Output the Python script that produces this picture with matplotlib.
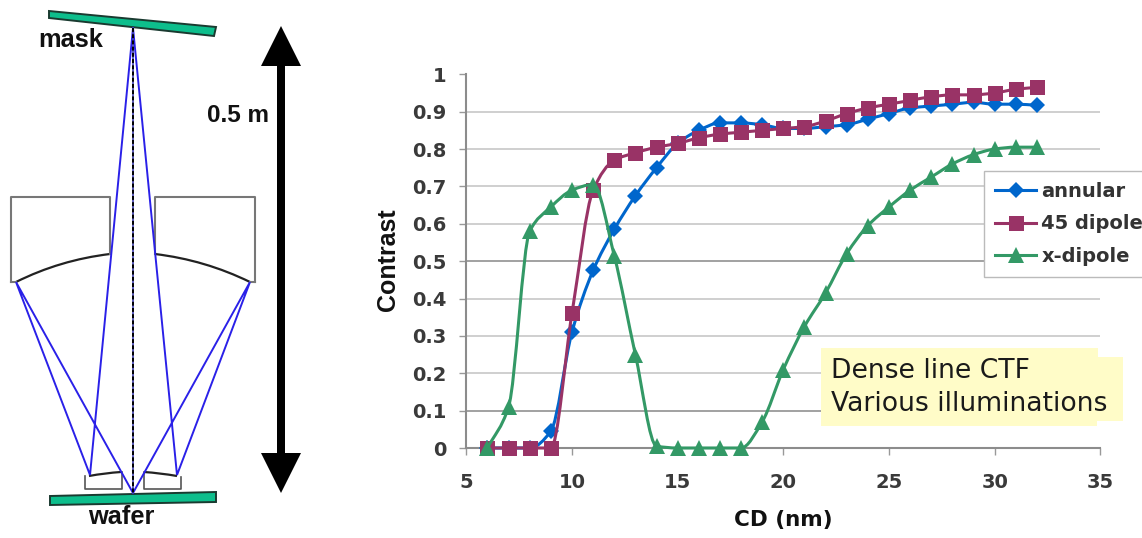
import matplotlib
matplotlib.use('Agg')
import matplotlib.pyplot as plt
from matplotlib.lines import Line2D
from matplotlib.patches import PathPatch, Polygon
from matplotlib.path import Path

W, H = 1142, 538

# chart data
cd = list(range(6, 33))
annular = [0, 0, 0, 0.045, 0.31, 0.475, 0.585, 0.675, 0.75, 0.815, 0.85, 0.87, 0.87, 0.865,
           0.855, 0.855, 0.86, 0.865, 0.88, 0.895, 0.91, 0.915, 0.92, 0.925, 0.92, 0.92, 0.917]
dipole_45 = [0, 0, 0, 0, 0.36, 0.69, 0.77, 0.79, 0.805, 0.815, 0.83, 0.84, 0.845, 0.85,
             0.855, 0.86, 0.875, 0.895, 0.91, 0.92, 0.93, 0.94, 0.945, 0.945, 0.95, 0.96, 0.965]
x_dipole = [0, 0.11, 0.58, 0.645, 0.69, 0.705, 0.515, 0.25, 0.005, 0, 0, 0, 0, 0.07,
            0.21, 0.325, 0.415, 0.52, 0.595, 0.645, 0.69, 0.725, 0.76, 0.785, 0.8, 0.805, 0.805]
x_ticks = [5, 10, 15, 20, 25, 30, 35]
y_ticks = [0, 0.1, 0.2, 0.3, 0.4, 0.5, 0.6, 0.7, 0.8, 0.9, 1]
y_tick_labels = ['0', '0.1', '0.2', '0.3', '0.4', '0.5', '0.6', '0.7', '0.8', '0.9', '1']

# optics sketch, in image pixels
mask_shape = [(49, 11), (216, 27), (214, 36), (49, 18)]
wafer_shape = [(50, 496), (216, 492), (216, 502), (50, 505)]
focus_top = (133, 28)
focus_bottom = (133, 493)
rays = [
    [focus_top, (90, 475), (16, 282), focus_bottom],
    [focus_top, (177, 475), (250, 282), focus_bottom],
]
arrow_shape = [(281, 26), (301, 66), (285, 66), (285, 453), (301, 453), (281, 493),
               (261, 453), (277, 453), (277, 66), (261, 66)]
note_shape = [(821, 348), (1098, 348), (1098, 357), (1123, 357), (1123, 421),
              (1097, 421), (1097, 426), (821, 426)]


def smooth_path(xs, ys):
    # bezier through the values, flat at local extrema so it does not overshoot
    n = len(xs)
    sec = [(ys[i + 1] - ys[i]) / (xs[i + 1] - xs[i]) for i in range(n - 1)]
    tan = [sec[0]]
    for i in range(1, n - 1):
        a, b = sec[i - 1], sec[i]
        tan.append(0 if a * b <= 0 else 2 * a * b / (a + b))
    tan.append(sec[-1])
    verts = [(xs[0], ys[0])]
    codes = [Path.MOVETO]
    for i in range(n - 1):
        h = (xs[i + 1] - xs[i]) / 3
        verts += [(xs[i] + h, ys[i] + h * tan[i]),
                  (xs[i + 1] - h, ys[i + 1] - h * tan[i + 1]),
                  (xs[i + 1], ys[i + 1])]
        codes += [Path.CURVE4] * 3
    return Path(verts, codes)


def curve(ax, start, ctrl, end, color='#222222', lw=1.6):
    p = Path([start, ctrl, end], [Path.MOVETO, Path.CURVE3, Path.CURVE3])
    ax.add_patch(PathPatch(p, fc='none', ec=color, lw=lw))


fig = plt.figure(figsize=(W / 100, H / 100), dpi=100, facecolor='white')

# background layer in pixel coordinates, for the sketch
dg = fig.add_axes([0, 0, 1, 1])
dg.set_xlim(0, W)
dg.set_ylim(H, 0)
dg.axis('off')

for shape in (mask_shape, wafer_shape):
    dg.add_patch(Polygon(shape, fc='#0DBE8C', ec='#1a3a30', lw=1.4))

box_color = '#777777'
dg.plot([11, 11, 110, 110], [282, 197, 197, 254], color=box_color, lw=1.5)
dg.plot([255, 255, 155, 155], [282, 197, 197, 254], color=box_color, lw=1.5)
dg.plot([11, 16], [282, 282], color=box_color, lw=1.5)
dg.plot([250, 255], [282, 282], color=box_color, lw=1.5)
dg.plot([85, 85, 122, 122], [476, 489, 489, 472], color='#555555', lw=1.2)
dg.plot([144, 144, 181, 181], [472, 489, 489, 477], color='#555555', lw=1.2)
curve(dg, (16, 282), (60, 260), (110, 254))
curve(dg, (155, 254), (205, 260), (250, 282))
curve(dg, (89, 476), (105, 473), (121, 472))
curve(dg, (144, 472), (160, 473), (177, 476))

for ray in rays:
    dg.plot([p[0] for p in ray], [p[1] for p in ray], color='#2a20e8', lw=1.4, solid_joinstyle='miter')
dg.plot([133, 133], [focus_top[1], focus_bottom[1]], color='#4040b0', lw=1.2)
dg.plot([133, 133], [focus_top[1], focus_bottom[1]], color='black', lw=1.4, ls=(0, (2, 1.2)))

dg.add_patch(Polygon(arrow_shape, fc='black', ec='none'))

bold = dict(family='Liberation Sans', fontweight='bold', color='#111111', ha='center', va='center')
dg.text(70.5, 40, 'mask', fontsize=18.3, **bold)
dg.text(238, 116, '0.5 m', fontsize=17.5, **bold)
dg.text(121, 517, 'wafer', fontsize=18.3, **bold)

# chart
left, right = 466.3, 1100.3
top, bottom = 74.3, 448
ax = fig.add_axes([left / W, 1 - bottom / H, (right - left) / W, (bottom - top) / H])
ax.patch.set_alpha(0)
ax.set_xlim(5, 35)
ax.set_ylim(0, 1)

for v in y_ticks[1:-1]:
    dark = v in (0.1, 0.5)
    ax.axhline(v, color='#9a9a9a' if dark else '#cccccc', lw=1.3, zorder=1)

series = [
    ('annular', annular, '#0066CC', 'D', 8),
    ('45 dipole', dipole_45, '#993366', 's', 10.8),
    ('x-dipole', x_dipole, '#339966', '^', 11.5),
]
handles = []
for i, (name, vals, color, marker, size) in enumerate(series):
    ax.add_patch(PathPatch(smooth_path(cd, vals), fc='none', ec=color, lw=2.2, zorder=3 + i, clip_on=False))
    ax.plot(cd, vals, ls='none', marker=marker, ms=size, color=color, mew=0, zorder=3 + i, clip_on=False)
    handles.append(Line2D([], [], color=color, lw=2.2, marker=marker, ms=size, mew=0, label=name))

for side in ('top', 'right'):
    ax.spines[side].set_visible(False)
for side in ('left', 'bottom'):
    ax.spines[side].set_color('#8c8c8c')
    ax.spines[side].set_linewidth(1.5)

ax.set_xticks(x_ticks)
ax.set_yticks(y_ticks)
ax.set_yticklabels(y_tick_labels)
ax.tick_params(axis='x', length=5, width=1, color='#999999', pad=13)
ax.tick_params(axis='y', length=5, width=1, color='#999999', pad=9)
for lab in ax.get_xticklabels() + ax.get_yticklabels():
    lab.set_fontweight('bold')
    lab.set_fontsize(14)
    lab.set_color('#3a3a3a')

ax.set_xlabel('CD (nm)', fontweight='bold', fontsize=15.5, color='#111111', va='center')
ax.xaxis.set_label_coords(0.5, -0.193)
ax.set_ylabel('Contrast', family='Liberation Sans', fontweight='bold', fontsize=18, color='#111111', va='center')
ax.yaxis.set_label_coords(-0.1235, 0.503)

leg = ax.legend(handles=handles, loc='upper left', bbox_to_anchor=(984 / W, 1 - 171 / H),
                bbox_transform=fig.transFigure, fancybox=False, framealpha=1, edgecolor='#bbbbbb',
                borderaxespad=0, borderpad=0.55, handlelength=2.14, handletextpad=0.26, labelspacing=0.7,
                prop=dict(weight='bold', size=14))
leg.set_zorder(10)
for t in leg.get_texts():
    t.set_color('#333333')

# note box sits over the gridlines
ov = fig.add_axes([0, 0, 1, 1])
ov.set_xlim(0, W)
ov.set_ylim(H, 0)
ov.axis('off')
ov.add_patch(Polygon(note_shape, fc='#FFFCC8', ec='none'))
ov.text(831, 371, 'Dense line CTF', fontsize=19.2, color='#1a1a1a', va='center', ha='left')
ov.text(831, 404, 'Various illuminations', fontsize=19.2, color='#1a1a1a', va='center', ha='left')

fig.savefig('out.png', dpi=100)
